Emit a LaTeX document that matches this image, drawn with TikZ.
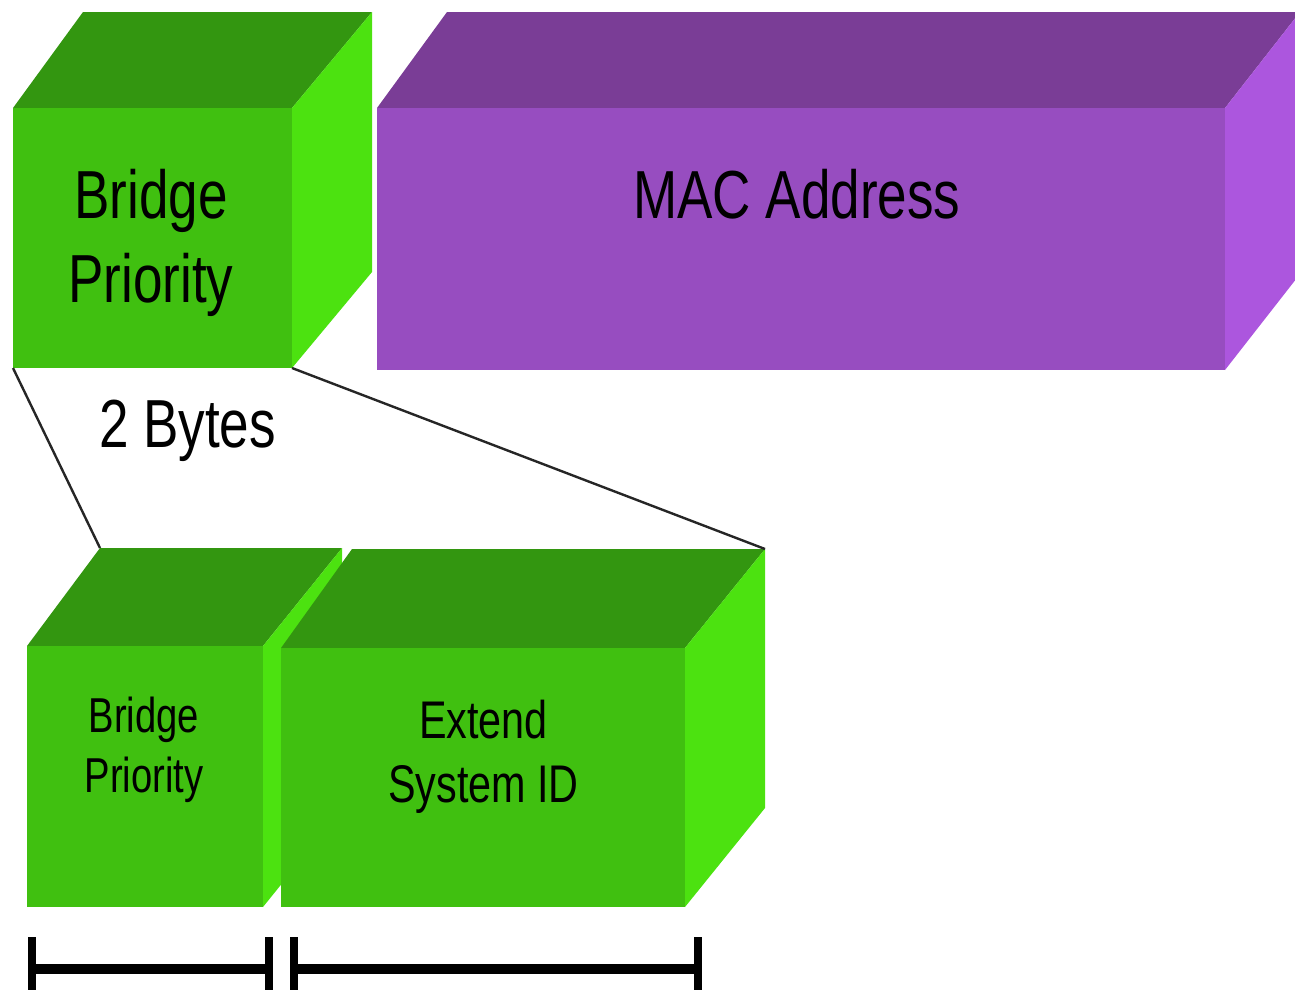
\documentclass[tikz,border=0pt]{standalone}
\usepackage{fontspec}
\setmainfont{Liberation Sans}[FakeStretch=0.78]

\definecolor{gfront}{RGB}{64,192,16}
\definecolor{gtop}{RGB}{51,150,16}
\definecolor{gside}{RGB}{76,226,16}
\definecolor{pfront}{RGB}{151,77,192}
\definecolor{ptop}{RGB}{122,61,150}
\definecolor{pside}{RGB}{172,86,222}

% A box seen slightly from above and right:
% #1 name, #2 x1, #3 y1, #4 x2, #5 y2 (front face),
% #6 back-left shift, #7 back-right shift, #8 vertical depth, #9 colour prefix
\newcommand\cubebox[9]{%
  \fill[#9top] (#2,#3) -- (#2+#6,#3+#8) -- (#4+#7,#3+#8) -- (#4,#3) -- cycle;
  \fill[#9side] (#4,#3) -- (#4+#7,#3+#8) -- (#4+#7,#5+#8) -- (#4,#5) -- cycle;
  \node[facebox, fill=#9front, minimum width={#4-#2}, minimum height={#5-#3}]
    (#1) at ({(#2+#4)/2},{(#3+#5)/2}) {};
  \coordinate (#1-bl) at (#2+#6,#3+#8);
  \coordinate (#1-br) at (#4+#7,#3+#8);
}

% labels are anchored at the baseline of their last line
\tikzset{
  facebox/.style={rectangle, draw=none, inner sep=0pt, outer sep=0pt},
  bigtext/.style={font=\fontsize{68}{84}\selectfont, align=center, inner sep=0pt, anchor=base},
  smalltext/.style={font=\fontsize{49}{60}\selectfont, align=center, inner sep=0pt, anchor=base},
  midtext/.style={font=\fontsize{53}{64}\selectfont, align=center, inner sep=0pt, anchor=base},
  link/.style={draw=black!85, line width=2.4pt},
  barline/.style={line width=10pt},
  tick/.style={line width=8pt},
}

\begin{document}
\begin{tikzpicture}[x=1pt,y=-1pt]
  \useasboundingbox (0,0) rectangle (1295,989);
  \clip (0,0) rectangle (1295,989);

  % upper row: priority field and MAC address
  \cubebox{bp}{13}{108}{292}{368}{70}{80}{-96}{g}
  \cubebox{mac}{377}{108}{1225}{370}{70}{75}{-96}{p}

  % lower row: the two parts of the priority field
  \cubebox{lbp}{27}{646}{263}{907}{73}{79}{-98}{g}
  \cubebox{esi}{281}{648}{685}{907}{71}{80}{-99}{g}

  % expansion lines
  \draw[link] (bp.south west) -- (lbp-bl);
  \draw[link] (bp.south east) -- (esi-br);

  % labels
  \node[bigtext] (tbp) at (151,302) {Bridge\\Priority};
  \node[bigtext] (tmac) at (797,218) {MAC Address};
  \node[bigtext] (tbytes) at (187.5,447) {2 Bytes};
  \node[smalltext] (tlbp) at (144,792) {Bridge\\Priority};
  \node[midtext] (tesi) at (483.5,802) {Extend\\System ID};

  % width brackets under the lower boxes
  \draw[barline] (32,969) -- (269,969);
  \draw[tick] (32,937) -- (32,995);
  \draw[tick] (269,937) -- (269,995);
  \draw[barline] (294,969) -- (698,969);
  \draw[tick] (294,937) -- (294,995);
  \draw[tick] (698,937) -- (698,995);
\end{tikzpicture}
\end{document}
